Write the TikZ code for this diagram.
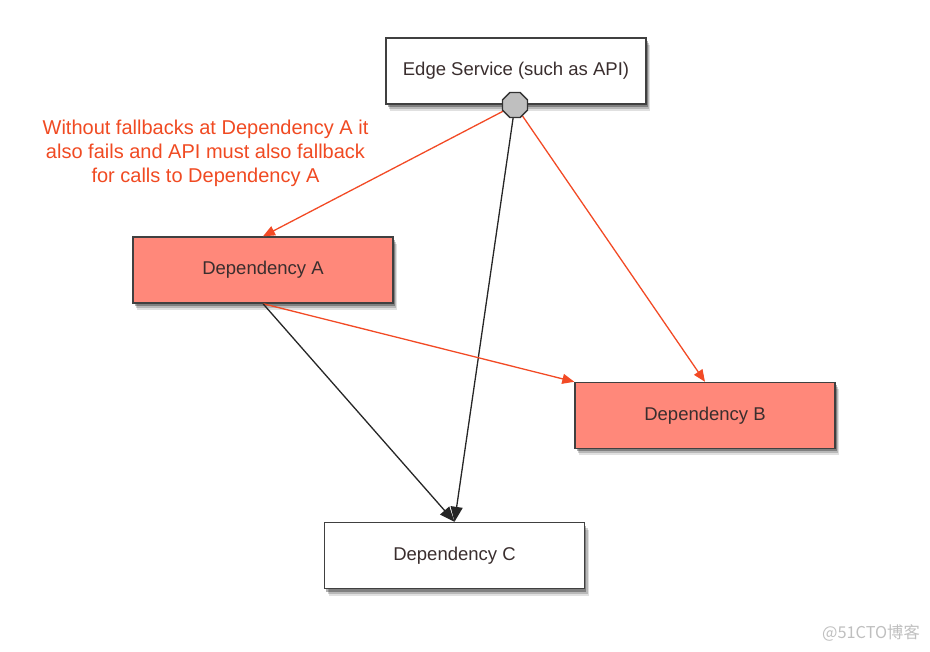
\documentclass[tikz,border=0pt]{standalone}
\usepackage{fontspec}
\setmainfont{Liberation Sans}
\newfontfamily\cjkfont{Noto Sans CJK SC}
\usetikzlibrary{shapes.geometric,arrows.meta,shadows}
\definecolor{redline}{HTML}{F24A25}
\definecolor{salmon}{HTML}{FF887A}
\definecolor{boxtext}{HTML}{3A2E2E}
\definecolor{notered}{HTML}{F04A22}
\tikzset{
  box/.style={draw=black!75, line width=1.4pt, minimum width=260pt, minimum height=66pt,
    font=\fontsize{18.5}{22}\selectfont, text=boxtext, inner sep=0pt,
    drop shadow={shadow xshift=4pt, shadow yshift=-7pt, opacity=0.12, fill=black},
    drop shadow={shadow xshift=3pt, shadow yshift=-5pt, opacity=0.18, fill=black},
    drop shadow={shadow xshift=1.5pt, shadow yshift=-3pt, opacity=0.3, fill=black}},
  whitebox/.style={box, fill=white},
  redbox/.style={box, fill=salmon},
  redarrow/.style={draw=redline, line width=1.3pt, -{Triangle[length=12pt,width=10pt]}},
  blackarrow/.style={draw=black!85, line width=1.3pt, -{Triangle[length=15pt,width=12pt]}},
  octa/.style={regular polygon, regular polygon sides=8, draw=black!80, line width=1.3pt,
    fill=black!25, minimum size=27pt, inner sep=0pt},
}
\begin{document}
\begin{tikzpicture}[x=1pt,y=-1pt]
\useasboundingbox (0,0) rectangle (930,652);
\node[whitebox] (edge) at (516,71) {Edge Service (such as API)};
\node[redbox] (depA) at (263,270) {Dependency A};
\node[redbox] (depB) at (705,415.5) {Dependency B};
\node[whitebox] (depC) at (454.5,555.5) {Dependency C};
\node[align=center, text=notered, font=\fontsize{20}{24}\selectfont] (note) at (205.5,153)
  {Without fallbacks at Dependency A it\\also fails and API must also fallback\\for calls to Dependency A};
\draw[redarrow] (515,105) -- (depA.north);
\draw[blackarrow] (515,105) -- (depC.north);
\draw[redarrow] (515,105) -- (depB.north);
\draw[redarrow] (depA.south) -- (depB.north west);
\draw[blackarrow] (depA.south) -- (depC.north);
\node[octa] (oct) at (515,105) {};
\node[text=black!25, font=\cjkfont\fontsize{16.3}{18}\selectfont] (wm) at (871,633) {@51CTO博客};
\end{tikzpicture}
\end{document}
